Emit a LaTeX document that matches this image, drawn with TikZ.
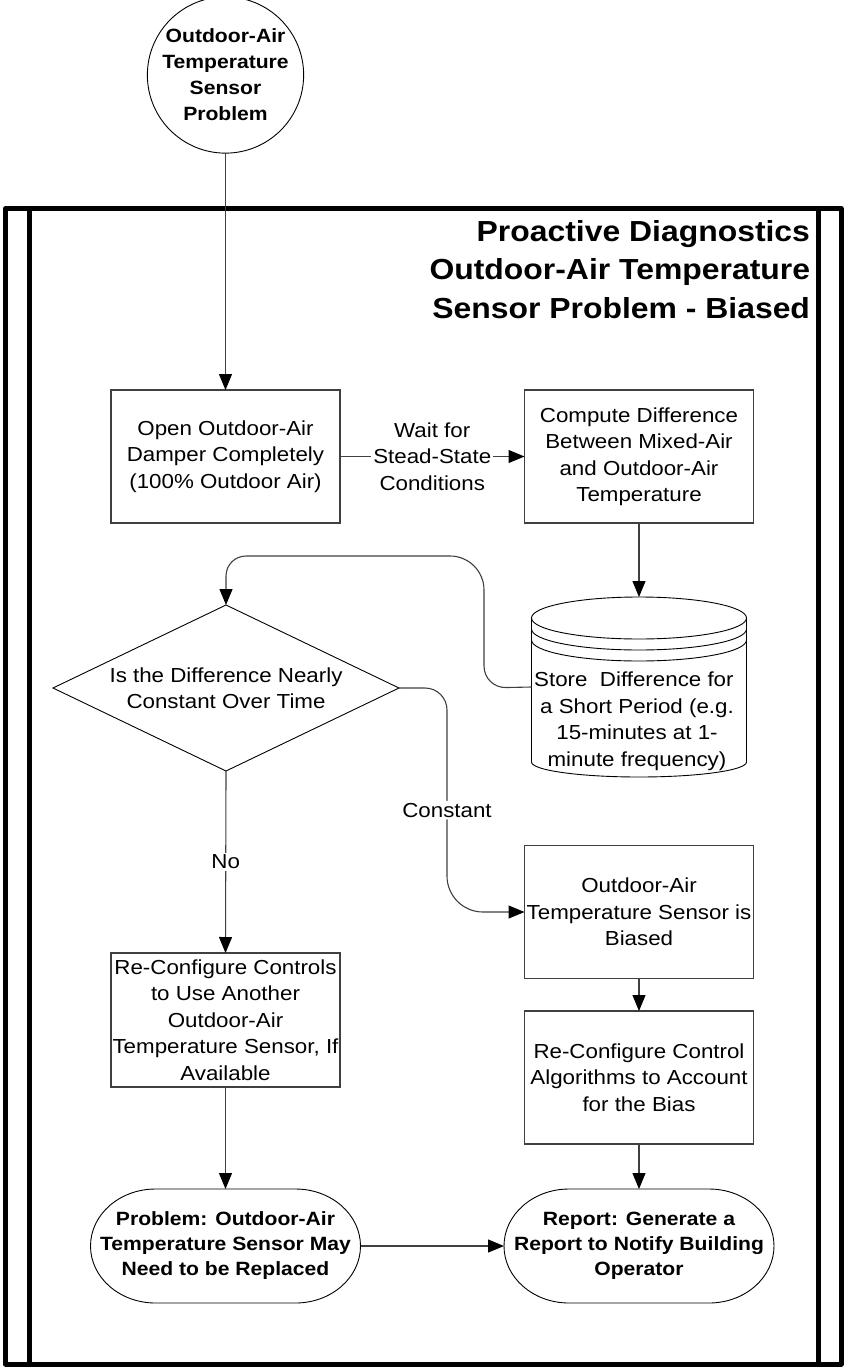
\documentclass[tikz,border=0pt]{standalone}
\usepackage{fontspec}
\setmainfont{Liberation Sans}[FakeStretch=1.1]
\usetikzlibrary{arrows.meta,shapes.geometric}

\newcommand\txtbody{\fontsize{20.3}{26.5}\selectfont}
\newcommand\txtbold{\bfseries\fontsize{19.2}{25}\selectfont}
\newcommand\txttitle{\bfseries\fontsize{29}{38.5}\selectfont}

\begin{document}
\begin{tikzpicture}[x=1pt,y=-1pt,
  every node/.style={inner sep=0pt, outer sep=0pt},
  procbox/.style={rectangle, draw=black!75, line width=1.1pt, minimum width=229pt,
    minimum height=133pt, align=center, font=\txtbody},
  termnode/.style={rectangle, minimum width=270pt, minimum height=114pt,
    align=center, font=\txtbold},
  shapeline/.style={draw=black, line width=0.9pt},
  conn/.style={draw=black!75, line width=1.1pt},
  arr/.style={conn, -{Triangle[length=16pt,width=13pt,color=black]}},
  lab/.style={fill=white, font=\txtbody, align=center, inner sep=2pt},
  frameline/.style={line width=5pt, line join=round}
]
\useasboundingbox (0,0) rectangle (844,1367);

% outer frame with its two inner rails
\draw[frameline] (5.5,208.5) rectangle (841,1364);
\draw[frameline] (29.5,208.5) -- (29.5,1364);
\draw[frameline] (818.5,208.5) -- (818.5,1364);

% title block
\node[anchor=north east, align=right, font=\txttitle] (title) at (810,220)
  {Proactive Diagnostics\\Outdoor-Air Temperature\\Sensor Problem - Biased};

% start event
\node[circle, shapeline, minimum size=144pt, align=center,
  font=\bfseries\fontsize{19.2}{26}\selectfont] (sensor) at (225.5,75)
  {Outdoor-Air\\Temperature\\Sensor\\Problem};

% process steps
\node[procbox] (open) at (225.5,456.5)
  {Open Outdoor-Air\\Damper Completely\\(100\% Outdoor Air)};
\node[procbox] (compute) at (639,456.5)
  {Compute Difference\\Between Mixed-Air\\and Outdoor-Air\\Temperature};

% data store (cylinder with ringed lid)
\node[rectangle, minimum width=215pt, minimum height=180pt] (store) at (639,687) {};
\draw[shapeline] (639,618) ellipse[x radius=107.5pt, y radius=21pt];
\draw[shapeline] (531.5,629) arc[start angle=180, end angle=360, x radius=107.5pt, y radius=21pt];
\draw[shapeline] (531.5,640) arc[start angle=180, end angle=360, x radius=107.5pt, y radius=21pt];
\draw[shapeline] (531.5,618) -- (531.5,762)
  arc[start angle=180, end angle=360, x radius=107.5pt, y radius=15pt] -- (746.5,618);
\node[font=\txtbody, align=center] (storetext) at (637,721)
  {Store\ \ Difference for\ \ \\a Short Period (e.g.\\15-minutes at 1-\\minute frequency)};

% decision
\node[diamond, shapeline, shape aspect=2.08, minimum width=346pt, minimum height=166pt,
  align=center, font=\txtbody] (decide) at (226,688)
  {Is the Difference Nearly\\Constant Over Time};

\node[procbox] (biased) at (639,912)
  {Outdoor-Air\\Temperature Sensor is\\Biased};
\node[procbox] (reconfctl) at (639,1077.5)
  {Re-Configure Control\\Algorithms to Account\\for the Bias};
\node[procbox, minimum height=134pt] (reconf) at (225.5,1020)
  {Re-Configure Controls\\to Use Another\\Outdoor-Air\\Temperature Sensor, If\\Available};

% end events (terminators)
\node[termnode] (problem) at (225.5,1246)
  {Problem: Outdoor-Air\\Temperature Sensor May\\Need to be Replaced};
\node[termnode] (report) at (639,1246)
  {Report: Generate a\\Report to Notify Building\\Operator};
\foreach \t in {problem,report}{
  \draw[shapeline] ([xshift=65pt]\t.north west) -- ([xshift=-65pt]\t.north east)
    arc[start angle=90, end angle=-90, x radius=65pt, y radius=57pt]
    -- ([xshift=65pt]\t.south west)
    arc[start angle=270, end angle=90, x radius=65pt, y radius=57pt] -- cycle;
}

% connectors
\draw[arr] (sensor) -- (open);
\draw[arr] (open) -- node[lab] {Wait for\\Stead-State\\Conditions} (compute);
\draw[arr] (compute) -- (store);
\draw[arr] (store.west) [rounded corners=22pt] -- (484,688) [rounded corners=34pt]
  -- (484,556) [rounded corners=20pt] -- (226,556) -- (decide.north);
\draw[arr] (decide.east) [rounded corners=22pt] -- (447,688) [rounded corners=36pt]
  -- (447,912) node[lab, pos=0.545] {Constant} -- (biased.west);
\draw[arr] (decide.south) -- node[lab, pos=0.5] {No} (reconf.north);
\draw[arr] (biased) -- (reconfctl);
\draw[arr] (reconf) -- (problem);
\draw[arr] (reconfctl) -- (report);
\draw[arr] (problem) -- (report);
\end{tikzpicture}
\end{document}
